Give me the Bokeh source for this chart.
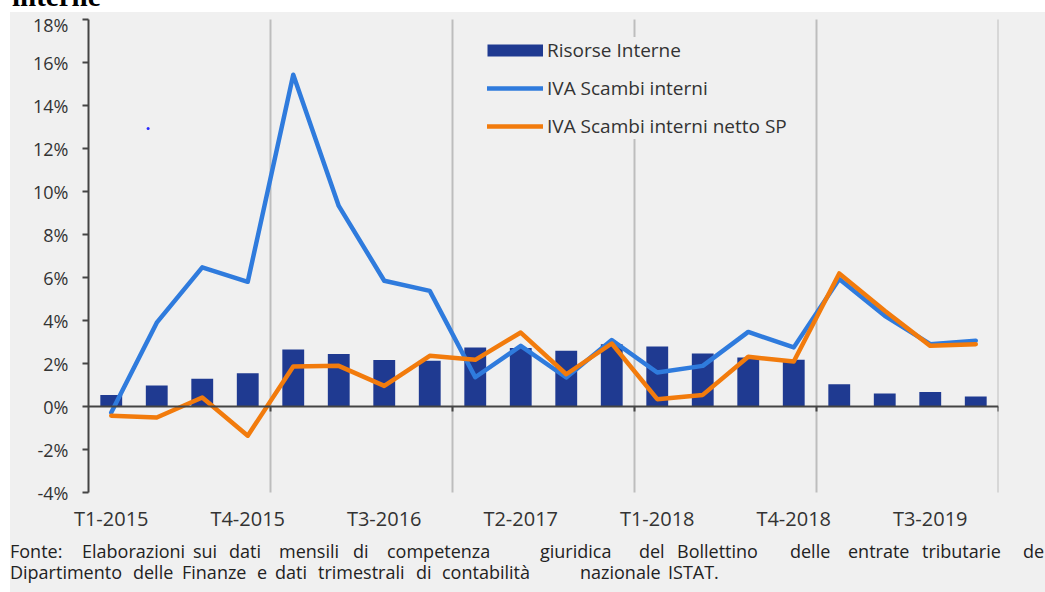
from bokeh.plotting import figure
from bokeh.layouts import column
from bokeh.models import (Span, Legend, LegendItem, FixedTicker, GlobalInlineStyleSheet, Div,
                          CustomJSTickFormatter, PrintfTickFormatter, ColumnDataSource)
from bokeh.embed import file_html
from bokeh.resources import INLINE

# ---------------- data ----------------
quarters = ["T1-2015", "T2-2015", "T3-2015", "T4-2015",
            "T1-2016", "T2-2016", "T3-2016", "T4-2016",
            "T1-2017", "T2-2017", "T3-2017", "T4-2017",
            "T1-2018", "T2-2018", "T3-2018", "T4-2018",
            "T1-2019", "T2-2019", "T3-2019", "T4-2019"]
risorse_interne = [0.53, 0.98, 1.29, 1.55, 2.65, 2.44, 2.16, 2.13, 2.75, 2.72,
                   2.59, 2.90, 2.79, 2.47, 2.28, 2.17, 1.04, 0.61, 0.68, 0.47]
iva_scambi_interni = [-0.28, 3.90, 6.47, 5.80, 15.43, 9.33, 5.85, 5.38, 1.36, 2.82,
                      1.35, 3.09, 1.58, 1.89, 3.47, 2.75, 5.93, 4.22, 2.90, 3.06]
iva_netto_sp = [-0.43, -0.51, 0.42, -1.36, 1.86, 1.89, 0.96, 2.36, 2.17, 3.44,
                1.50, 2.93, 0.34, 0.54, 2.31, 2.09, 6.19, 4.45, 2.82, 2.90]
stray_x = [1.31]
stray_y = [12.93]
y_ticks = [-4, -2, 0, 2, 4, 6, 8, 10, 12, 14, 16, 18]
legend_labels = ["Risorse Interne", "IVA Scambi interni", "IVA Scambi interni netto SP"]
title_text = "interne"
foot_line1 = ["Fonte:", "Elaborazioni", "sui", "dati", "mensili", "di", "competenza",
              "giuridica", "del", "Bollettino", "delle", "entrate", "tributarie", "de"]
foot_line2 = ["Dipartimento", "delle", "Finanze", "e", "dati", "trimestrali", "di",
              "contabilità", "nazionale", "ISTAT."]

# ---------------- layout constants (page pixels) ----------------
W, H = 1045, 592
TOP_H, FOOT_H = 12, 58
MAIN_H = H - TOP_H - FOOT_H
LEFT, RIGHT, TOP, BOTTOM = 88, 998, 19, 492
n = len(quarters)

BG = "#F0F0F0"
BAR = "#1F3A91"
BLUE = "#2F7BDD"
ORANGE = "#F27B0C"
AXIS = "#444444"
TXT = "#333333"

# ---------------- main chart ----------------
xc = [i + 0.5 for i in range(n)]
src = ColumnDataSource(dict(x=xc, r=risorse_interne, b=iva_scambi_interni, o=iva_netto_sp))

p = figure(width=W, height=MAIN_H, x_range=(0, n), y_range=(y_ticks[0], y_ticks[-1]),
           output_backend="svg", toolbar_location=None,
           min_border_left=LEFT, min_border_right=W - RIGHT,
           min_border_top=TOP - TOP_H, min_border_bottom=TOP_H + MAIN_H - BOTTOM)
p.title_location = None
p.margin = 0
p.stylesheets = [GlobalInlineStyleSheet(css=(
    "body { margin: 0 !important; "
    "background: linear-gradient(to right, #ffffff 10px, rgba(255,255,255,0) 10px), "
    "linear-gradient(to bottom, #ffffff 12px, %s 12px) !important; }" % BG))]
p.border_fill_color = None
p.background_fill_color = BG
p.outline_line_color = None
p.xgrid.visible = False
p.ygrid.visible = False

boundaries = [i for i, q in enumerate(quarters) if q.startswith("T1") and i > 0] + [n]
for b in boundaries:
    p.add_layout(Span(location=b, dimension="height", line_color="#8a8a8a",
                      line_width=2, line_dash="1 1", level="underlay"))

p.vbar(x="x", top="r", bottom=0, width=0.48, source=src, fill_color=BAR, line_color=None)

p.add_layout(Span(location=0, dimension="width", line_color=AXIS, line_width=2, level="glyph"))
y_per_px = (y_ticks[-1] - y_ticks[0]) / (BOTTOM - TOP)
p.segment(x0=boundaries, y0=[0] * len(boundaries), x1=boundaries,
          y1=[-5 * y_per_px] * len(boundaries), line_color=AXIS, line_width=2)

rb = p.line("x", "b", source=src, line_color=BLUE, line_width=4.5, line_join="round", line_cap="round")
ro = p.line("x", "o", source=src, line_color=ORANGE, line_width=4.5, line_join="round", line_cap="round")
p.scatter(stray_x, stray_y, marker="circle", size=3, fill_color="#2a2aff", line_color=None)

rbar = p.line([0, 0], [float("nan"), float("nan")], line_color=BAR, line_width=12, line_cap="butt")

legend = Legend(items=[LegendItem(label=legend_labels[0], renderers=[rbar]),
                       LegendItem(label=legend_labels[1], renderers=[rb]),
                       LegendItem(label=legend_labels[2], renderers=[ro])],
                location=(399, 353), orientation="vertical",
                glyph_width=56, glyph_height=20, label_height=20, label_standoff=4,
                spacing=12, padding=8, margin=0,
                label_text_font="Open Sans", label_text_font_size="19px",
                label_text_color=TXT, background_fill_color=BG, background_fill_alpha=1,
                border_line_color=None)
p.add_layout(legend)

p.yaxis.ticker = FixedTicker(ticks=y_ticks)
p.yaxis.formatter = PrintfTickFormatter(format="%d%%")
p.yaxis.axis_line_color = AXIS
p.yaxis.axis_line_width = 2
p.yaxis.major_tick_line_color = AXIS
p.yaxis.major_tick_line_width = 2
p.yaxis.major_tick_out = 6
p.yaxis.major_tick_in = 0
p.yaxis.minor_tick_line_color = None
p.yaxis.major_label_standoff = 14
p.yaxis.major_label_text_font = "Open Sans"
p.yaxis.major_label_text_font_size = "18px"
p.yaxis.major_label_text_color = TXT

p.xaxis.ticker = FixedTicker(ticks=[i + 0.5 for i in range(0, n, 3)])
p.xaxis.formatter = CustomJSTickFormatter(args=dict(labels=quarters),
                                          code="return labels[Math.round(tick - 0.5)] || '';")
p.xaxis.axis_line_color = None
p.xaxis.major_tick_line_color = None
p.xaxis.minor_tick_line_color = None
p.xaxis.major_tick_out = 0
p.xaxis.major_label_standoff = 12
p.xaxis.major_label_text_font = "Open Sans"
p.xaxis.major_label_text_font_size = "20px"
p.xaxis.major_label_text_color = TXT


# ---------------- cut title (top strip) and footnote (bottom strip) ----------------
def span_html(x, top, lh, text, style):
    return ('<span style="position:absolute;left:%dpx;top:%.1fpx;white-space:nowrap;'
            'line-height:%dpx;%s">%s</span>' % (x, top, lh, style, text))

def strip_div(height, inner):
    html = ('<div style="position:relative;width:%dpx;height:%dpx;overflow:hidden;margin:0;'
            'padding:0;">%s</div>' % (W, height, inner))
    return Div(text=html, width=W, height=height, margin=0,
               styles={"overflow": "hidden", "padding": "0", "margin": "0"})

# Liberation Serif: ascent .891, descent .216 ; Open Sans: ascent 1.069, descent .293
TS = 29
t_base = (TS - (0.891 + 0.216) * TS) / 2 + 0.891 * TS
title_style = "font-family:'Liberation Serif';font-weight:bold;font-size:%dpx;color:#000;" % TS
top_div = strip_div(TOP_H, span_html(12, 6 - t_base, TS, title_text, title_style))

FS = 18
f_base = (FS - (1.069 + 0.293) * FS) / 2 + 1.069 * FS
foot_style = "font-family:'Open Sans';font-size:%dpx;color:#222222;" % FS
x1 = [10, 82, 193, 229, 279, 353, 387, 540, 639, 677, 790, 848, 922, 1023]
x2 = [10, 133, 182, 257, 275, 318, 416, 442, 580, 668]
base1 = 558 - TOP_H - MAIN_H
base2 = 579 - TOP_H - MAIN_H
spans = "".join(span_html(x, base1 - f_base, FS, w, foot_style) for x, w in zip(x1, foot_line1))
spans += "".join(span_html(x, base2 - f_base, FS, w, foot_style) for x, w in zip(x2, foot_line2))
foot_div = strip_div(FOOT_H, spans)

layout = column(top_div, p, foot_div, spacing=0, margin=0)
open("out.html", "w").write(file_html(layout, INLINE))
